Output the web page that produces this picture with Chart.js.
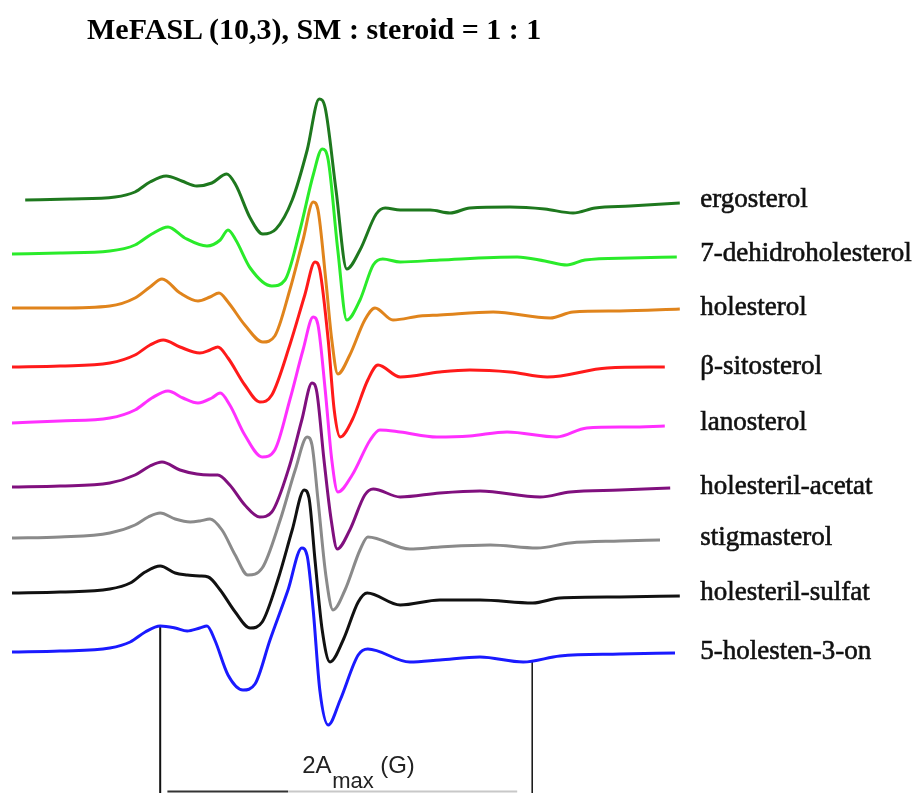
<!DOCTYPE html>
<html lang="sr">
<head>
<meta charset="utf-8">
<title>MeFASL (10,3), SM : steroid = 1 : 1</title>
<script src="https://cdn.jsdelivr.net/npm/chart.js@4.4.1/dist/chart.umd.min.js"></script>
<style>
  html, body { margin: 0; padding: 0; background: #fff; }
  #wrap { position: relative; width: 923px; height: 793px; }
  #naslov {
    position: absolute; left: 87px; top: 14px;
    font: bold 30px "Liberation Serif", "Times New Roman", serif;
    line-height: 30px; color: #000; white-space: nowrap;
  }
</style>
</head>
<body>
<div id="wrap">
  <div id="naslov">MeFASL (10,3), SM : steroid = 1 : 1</div>
  <canvas id="epr"></canvas>
</div>
<script>
// EPR spektri, parovi [polje (G), signal (a.u.)]
const ergosterol = [[4.2,0],[11.7,0.1],[19.2,0.3],[22.5,0.8],[25.0,1.8],[27.7,2.4],[30.3,1.9],[32.8,1.4],[35.3,1.7],[37.8,2.6],[39.3,1.5],[41.7,-1.8],[43.8,-3.4],[46.0,-2.9],[48.7,0],[51.2,5.0],[53.2,10.1],[54.2,9.2],[56.0,1.0],[57.8,-6.9],[60.0,-5.0],[62.7,-1.4],[64.2,-0.8],[66.7,-1.0],[71.7,-1.0],[75.0,-1.3],[78.3,-0.8],[85.0,-0.7],[90.8,-0.9],[95.5,-1.3],[99.2,-0.8],[105.0,-0.6],[113.3,-0.3]];
const dehidroholesterol = [[2.0,0],[10.0,0.1],[18.3,0.3],[22.5,0.9],[25.3,2.0],[28.0,2.7],[30.8,1.6],[34.5,0.8],[36.7,1.4],[38.0,2.4],[39.3,1.4],[41.7,-1.4],[45.3,-3.2],[47.5,-2.6],[50.0,2.4],[52.2,7.9],[53.7,10.5],[54.7,9.4],[56.3,0.4],[57.8,-6.6],[60.0,-4.6],[62.2,-1.1],[63.8,-0.5],[66.7,-0.8],[73.3,-0.6],[86.2,-0.3],[90.8,-0.7],[94.5,-1.1],[97.5,-0.6],[105.0,-0.4],[112.8,-0.3]];
const holesterol = [[2.0,0],[10.0,0],[18.3,0.2],[22.5,1.0],[25.0,2.1],[27.0,2.9],[30.0,1.5],[33.0,0.7],[35.0,1.1],[36.5,1.5],[38.0,0.6],[40.8,-1.7],[43.8,-3.4],[45.8,-2.8],[48.3,1.8],[50.5,6.8],[52.2,10.6],[53.0,9.8],[54.3,2.8],[55.3,-3.2],[56.3,-6.6],[58.3,-4.7],[60.8,-1.2],[62.5,0],[65.5,-1.2],[70.0,-0.8],[73.3,-0.7],[82.2,-0.4],[91.7,-1.0],[95.5,-0.4],[103.3,-0.3],[113.3,-0.1]];
const sitosterol = [[2.0,0],[10.0,0.1],[18.3,0.4],[22.5,1.2],[25.0,2.2],[27.2,2.7],[30.0,2.0],[33.3,1.4],[35.0,1.7],[36.3,2.0],[38.0,0.9],[40.8,-1.8],[43.3,-3.5],[45.3,-2.8],[48.3,2.2],[50.8,7.2],[52.5,10.5],[53.3,9.7],[54.7,2.7],[55.7,-4.3],[56.7,-7.0],[58.7,-5.3],[61.3,-1.3],[63.0,0.2],[66.7,-1.0],[73.3,-0.5],[78.3,-0.3],[85.0,-0.5],[91.2,-1.0],[101.2,-0.1],[110.8,0]];
const lanosterol = [[2.0,0],[10.0,0.2],[18.3,0.5],[22.5,1.3],[25.3,2.5],[28.0,3.2],[30.5,2.5],[33.0,2.0],[35.3,2.5],[36.7,3.0],[38.3,1.8],[40.8,-1.2],[43.7,-3.4],[45.8,-2.7],[48.3,2.3],[50.5,7.3],[52.2,10.6],[53.0,9.8],[54.2,3.3],[55.3,-3.7],[56.3,-6.9],[58.7,-5.2],[61.7,-1.7],[63.3,-0.7],[66.7,-0.9],[72.8,-1.4],[78.3,-1.3],[84.5,-0.9],[92.8,-1.4],[97.8,-0.5],[105.0,-0.4],[110.8,-0.3]];
const acetat = [[2.0,0],[10.0,0.1],[18.3,0.4],[22.5,1.2],[25.0,2.1],[27.0,2.5],[30.0,1.7],[32.8,1.3],[35.0,1.2],[36.3,1.2],[38.3,0.2],[40.8,-1.8],[43.3,-3.0],[45.3,-2.5],[48.3,2.2],[50.3,6.7],[52.0,10.4],[52.8,9.5],[54.0,2.7],[55.2,-3.3],[56.2,-6.2],[58.3,-4.3],[60.8,-0.8],[62.2,-0.2],[66.7,-1.0],[73.3,-0.6],[80.0,-0.4],[90.0,-1.0],[95.0,-0.5],[103.3,-0.3],[111.7,-0.1]];
const stigmasterol = [[2.0,0],[10.0,0.1],[18.3,0.5],[22.5,1.3],[24.7,2.1],[26.7,2.5],[29.2,1.9],[31.7,1.6],[33.3,1.7],[35.0,1.9],[37.0,0.8],[39.2,-1.7],[41.3,-3.7],[43.7,-3.0],[46.7,1.8],[49.2,6.8],[51.2,10.1],[52.0,9.3],[53.0,3.8],[54.3,-3.7],[55.5,-7.2],[57.5,-5.2],[60.0,-1.2],[61.3,0.1],[68.3,-1.1],[73.3,-0.9],[81.7,-0.7],[89.5,-1.0],[95.0,-0.5],[103.3,-0.3],[110.0,-0.2]];
const sulfat = [[2.0,0],[10.0,0.1],[18.3,0.4],[21.7,1.0],[24.2,2.1],[26.7,2.7],[29.2,2.0],[31.2,1.8],[33.3,1.7],[34.7,1.6],[36.7,0.3],[39.2,-1.9],[41.7,-3.5],[43.7,-2.9],[46.3,1.3],[48.7,6.3],[50.7,10.3],[51.5,9.5],[52.5,3.3],[53.7,-3.7],[55.0,-6.9],[57.2,-4.7],[59.7,-0.9],[61.2,0],[66.7,-1.2],[73.3,-0.7],[80.0,-0.7],[88.8,-1.0],[93.3,-0.5],[103.3,-0.4],[113.3,-0.3]];
const holestenon = [[2.0,0],[10.0,0.1],[18.3,0.4],[21.7,1.0],[24.2,2.0],[26.7,2.6],[29.2,2.4],[31.2,2.1],[33.3,2.4],[34.5,2.6],[35.8,1.2],[38.0,-2.3],[40.5,-3.8],[42.5,-3.2],[45.0,1.2],[48.0,6.2],[50.3,10.4],[51.2,9.6],[52.2,4.2],[53.3,-3.8],[54.7,-7.3],[56.7,-4.8],[59.7,-0.3],[61.3,0.3],[68.3,-1.0],[73.3,-0.8],[80.0,-0.5],[87.2,-1.0],[93.3,-0.4],[103.3,-0.2],[112.5,-0.1]];

const spectra = [ergosterol, dehidroholesterol, holesterol, sitosterol, lanosterol, acetat, stigmasterol, sulfat, holestenon];
const names = ['ergosterol', '7-dehidroholesterol', 'holesterol', 'β-sitosterol', 'lanosterol',
               'holesteril-acetat', 'stigmasterol', 'holesteril-sulfat', '5-holesten-3-on'];
// pomak osnovne linije svakog spektra
const offsets = [59.3, 53.9, 48.5, 42.6, 37.0, 30.6, 25.5, 20.0, 14.1];
const colors = ['#1e781e', '#2aeb2a', '#e0841c', '#ff1a1a', '#ff30ff', '#80107e', '#8a8a8a', '#111111', '#1a1aff'];

// polozaji spoljnih ekstrema (2Amax)
const aMaxField = [26.7, 88.7];

// linearna interpolacija signala na datom polju
function signalAt(pts, f) {
  for (let i = 1; i < pts.length; i++) {
    if (pts[i][0] >= f) {
      const [x0, y0] = pts[i - 1], [x1, y1] = pts[i];
      return y0 + (y1 - y0) * (f - x0) / (x1 - x0);
    }
  }
  return pts[pts.length - 1][1];
}

const datasets = spectra.map((pts, i) => ({
  label: names[i],
  data: pts.map(([f, s]) => ({ x: f, y: s + offsets[i] })),
  borderColor: colors[i],
  borderWidth: 3,
  cubicInterpolationMode: 'monotone',
  pointRadius: 0
}));

// vertikalne linije za 2Amax, od donjeg spektra do dna
const last = spectra.length - 1;
aMaxField.forEach((f, k) => {
  datasets.push({
    label: '2Amax' + k,
    data: [{ x: f, y: signalAt(spectra[last], f) + offsets[last] }, { x: f, y: 0 }],
    borderColor: '#111',
    borderWidth: k === 0 ? 2 : 1.5,
    pointRadius: 0
  });
});
// strelica ispod (vidi se samo gornji deo)
datasets.push({
  label: 'strelica',
  data: [{ x: aMaxField[0] + 1.2, y: 0.15 }, { x: 48, y: 0.15 }],
  borderColor: '#333', borderWidth: 2, pointRadius: 0
});
datasets.push({
  label: 'strelica2',
  data: [{ x: 48, y: 0.15 }, { x: aMaxField[1] - 2.5, y: 0.15 }],
  borderColor: '#c8c8c8', borderWidth: 2, pointRadius: 0
});

const labelX = 116.7;

const labelsPlugin = {
  id: 'imenaSpektara',
  afterDatasetsDraw(chart) {
    const { ctx, scales: { x, y } } = chart;
    ctx.save();
    ctx.fillStyle = '#111';
    ctx.strokeStyle = '#111';
    ctx.lineWidth = 0.6;
    ctx.font = '27px "Liberation Serif", "Times New Roman", serif';
    ctx.textBaseline = 'alphabetic';
    names.forEach((name, i) => {
      const px = x.getPixelForValue(labelX), py = y.getPixelForValue(offsets[i]) + 7;
      ctx.fillText(name, px, py);
      ctx.strokeText(name, px, py);
    });

    // oznaka 2Amax (G)
    const mid = (aMaxField[0] + aMaxField[1]) / 2;
    const cx = x.getPixelForValue(mid) - 44;
    const by = y.getPixelForValue(2.0);
    ctx.fillStyle = '#222';
    ctx.font = '24px "Liberation Sans", Arial, sans-serif';
    ctx.fillText('2A', cx, by);
    ctx.font = '22px "Liberation Sans", Arial, sans-serif';
    ctx.fillText('max', cx + 30, by + 15);
    ctx.font = '24px "Liberation Sans", Arial, sans-serif';
    ctx.fillText('(G)', cx + 78, by);
    ctx.restore();
  }
};

new Chart(document.getElementById('epr'), {
  type: 'line',
  data: { datasets },
  options: {
    responsive: true,
    maintainAspectRatio: false,
    animation: false,
    events: [],
    layout: { padding: 0 },
    scales: {
      x: { type: 'linear', min: 0, max: 923 / 6, display: false },
      y: { min: 0, max: 79.3, display: false }
    },
    plugins: {
      legend: { display: false },
      tooltip: { enabled: false }
    }
  },
  plugins: [labelsPlugin]
});
</script>
</body>
</html>
